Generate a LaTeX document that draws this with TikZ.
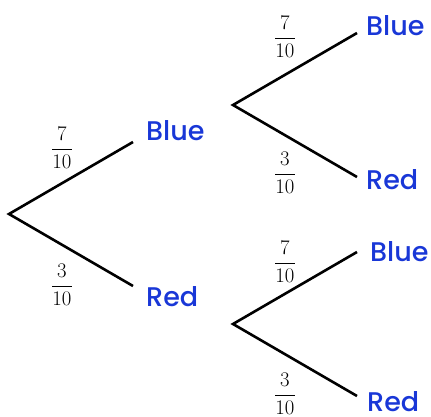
\documentclass[tikz,border=0pt]{standalone}
\usepackage{fontspec}
\newfontfamily\lblfont{Poppins Medium}
\definecolor{lblblue}{RGB}{25,55,215}
\begin{document}
\begin{tikzpicture}[x=1pt,y=-1pt,
  branch/.style={line width=2.6pt},
  outcome/.style={font=\lblfont\fontsize{27}{30}\selectfont, text=lblblue, anchor=west, inner sep=0pt},
  prob/.style={font=\fontsize{21}{25}\selectfont, inner sep=0pt}]
\useasboundingbox (0,0) rectangle (431,416);
\coordinate (r) at (9,214);
\coordinate (b1) at (133,142);
\coordinate (r1) at (133,286);
\coordinate (br) at (233,105);
\coordinate (bb) at (357,33);
\coordinate (brr) at (357,177);
\coordinate (rr) at (233,324);
\coordinate (rb) at (357,252);
\coordinate (rrr) at (357,396);
\draw[branch] (b1) -- (r) -- (r1);
\draw[branch] (bb) -- (br) -- (brr);
\draw[branch] (rb) -- (rr) -- (rrr);
\node[outcome] (tb1) at (146,131) {Blue};
\node[outcome] (tr1) at (146,297) {Red};
\node[outcome] (tbb) at (366,26) {Blue};
\node[outcome] (tbr) at (366,180) {Red};
\node[outcome] (trb) at (370,252) {Blue};
\node[outcome] (trr) at (367,402) {Red};
\node[prob] (p1) at (62,148) {$\displaystyle\frac{7}{10}$};
\node[prob] (p2) at (62,285) {$\displaystyle\frac{3}{10}$};
\node[prob] (p3) at (285,37) {$\displaystyle\frac{7}{10}$};
\node[prob] (p4) at (285,173) {$\displaystyle\frac{3}{10}$};
\node[prob] (p5) at (285,262) {$\displaystyle\frac{7}{10}$};
\node[prob] (p6) at (285,394) {$\displaystyle\frac{3}{10}$};
\end{tikzpicture}
\end{document}
